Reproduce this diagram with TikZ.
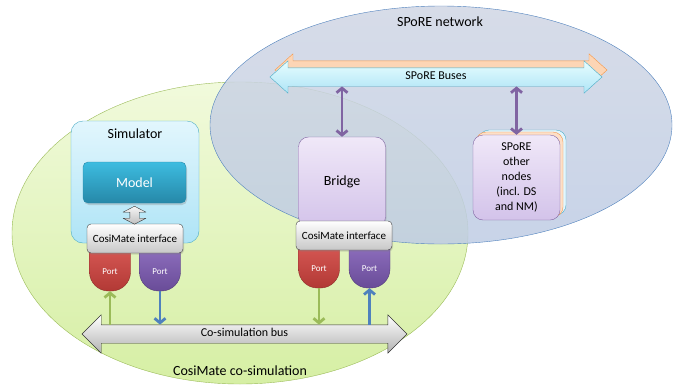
\documentclass[tikz,border=0pt]{standalone}
\usepackage{fontspec}
\setmainfont{Carlito}
\usetikzlibrary{positioning,shapes.geometric,shapes.arrows,arrows.meta,shadows}

\definecolor{cosigreen}{HTML}{9BBB59}
\definecolor{sporeblue}{HTML}{4F81BD}
\definecolor{sporepurple}{HTML}{8064A2}
\definecolor{simcyan}{HTML}{4BACC6}
\definecolor{busorange}{HTML}{F79646}
\definecolor{greentop}{HTML}{F1FADC}
\definecolor{greenbot}{HTML}{D6EFA4}
\definecolor{bluetop}{HTML}{D0D6E4}
\definecolor{bluebot}{HTML}{BECCE4}
\definecolor{lilactop}{HTML}{F0E8F8}
\definecolor{lilacbot}{HTML}{D3C3EA}
\definecolor{modeltop}{HTML}{3DBCE0}
\definecolor{modelbot}{HTML}{2688A8}
\definecolor{simtop}{HTML}{E2F6FD}
\definecolor{simbot}{HTML}{AEE4F6}
\definecolor{redtop}{HTML}{E2625E}
\definecolor{redbot}{HTML}{B23935}
\definecolor{purtop}{HTML}{9A7ACA}
\definecolor{purbot}{HTML}{694C98}

\begin{document}
\begin{tikzpicture}[x=1pt,y=-1pt,
    big/.style={font=\fontsize{14}{16}\selectfont},
    iface/.style={draw=black!75,rounded corners=4pt,minimum width=96pt,minimum height=29pt,
                  inner sep=1pt,top color=white,bottom color=black!22,
                  font=\fontsize{11}{13}\selectfont,
                  drop shadow={opacity=0.25,shadow xshift=1pt,shadow yshift=-1.5pt}},
    port/.style 2 args={rounded corners=19pt,minimum width=41pt,inner sep=0pt,
                 text height=41pt,text depth=17pt,text=white,
                 font=\fontsize{9}{10}\selectfont,
                 draw=#2!80!black,top color=#1,bottom color=#2},
    bus/.style={double arrow,draw,double arrow tip angle=84,inner xsep=2pt,
                text height=8pt,text depth=3pt,inner ysep=3.5pt,
                font=\fontsize{12}{14}\selectfont},
    link/.style={line width=2.8pt,-{Straight Barb[length=4.5pt,width=11pt]}},
    both/.style={line width=2.8pt,sporepurple,
                 {Straight Barb[length=4.5pt,width=11pt]}-{Straight Barb[length=4.5pt,width=11pt]}},
    stack/.style={rounded corners=10pt,minimum width=87pt,minimum height=85pt}
  ]
  \useasboundingbox (0,0) rectangle (676,386);

  % the two zones
  \draw[cosigreen,top color=greentop,bottom color=greenbot]
    (240,233) ellipse [x radius=228pt,y radius=151pt];
  \draw[sporeblue,fill opacity=0.85,top color=bluetop,bottom color=bluebot]
    (441,125) ellipse [x radius=231pt,y radius=119pt];
  \node[big] (netlabel) at (440,22) {SPoRE network};
  \node[big] (cosilabel) at (240,371) {CosiMate co-simulation};

  % buses
  \node[bus,draw=busorange,fill=busorange!40,minimum height=332pt,
        double arrow head extend=7pt] (sporeback) at (441,70) {\phantom{SPoRE Buses}};
  \node[bus,draw=simcyan,top color=simtop!70!cyan!25,bottom color=simbot,minimum height=332pt,
        double arrow head extend=7pt] (sporebus) at (436,77) {SPoRE Buses};
  \node[bus,draw=black!80,top color=white,bottom color=black!30,minimum height=325pt,
        double arrow head extend=10pt,double arrow tip angle=90] (cobus) at (244.5,334)
        {Co-simulation bus};

  % spore side
  \node[big,draw=sporepurple,rounded corners=10pt,minimum width=87pt,minimum height=90pt,
        top color=lilactop,bottom color=lilacbot,
        drop shadow={opacity=0.25,shadow xshift=1pt,shadow yshift=-1.5pt}] (bridge) at (342,182) {Bridge};
  \node[stack,draw=simcyan,fill=simtop] (otherback) at (522.5,172.5) {};
  \node[stack,draw=busorange,fill=busorange!30] (othermid) at (519.5,174.5) {};
  \node[stack,draw=sporepurple,top color=lilactop,bottom color=lilacbot,
        align=center,font=\fontsize{12}{15}\selectfont] (other) at (516.5,177.5)
        {SPoRE\\other\\nodes\\(incl. DS\\and NM)};

  % simulator side
  \node[draw=simcyan,rounded corners=12pt,minimum width=128pt,minimum height=122pt,
        top color=simtop,bottom color=simbot] (sim) at (135,182) {};
  \node[big,below=4pt of sim.north] (simtitle) {Simulator};
  \node[big,text=white,draw=modelbot,rounded corners=5pt,minimum width=103pt,
        minimum height=41pt,top color=modeltop,bottom color=modelbot,
        drop shadow={opacity=0.3,shadow xshift=1pt,shadow yshift=-2pt}] (model) at (134.5,182.5) {Model};

  % ports and interfaces
  \node[port={redtop}{redbot}] (simpin) at (110,262) {Port};
  \node[port={purtop}{purbot}] (simpout) at (160,262) {Port};
  \node[iface] (simif) at (135,238.5) {CosiMate interface};
  \node[port={redtop}{redbot}] (brpin) at (319,259) {Port};
  \node[port={purtop}{purbot}] (brpout) at (369.5,259) {Port};
  \node[iface] (brif) at (344,235.5) {CosiMate interface};

  % block arrow model <-> interface
  \draw[black!80,top color=white,bottom color=black!25,line join=round]
    (model.south) ++(0,3) -- ++(11.5,6) -- ++(-6.8,0) -- ++(0,6) -- ++(6.8,0)
    -- ++(-11.5,6) -- ++(-11.5,-6) -- ++(6.8,0) -- ++(0,-6) -- ++(-6.8,0) -- cycle;

  % links
  \draw[link,cosigreen] (simpin.south |- cobus.north) -- (simpin.south);
  \draw[link,sporeblue] (simpout.south) -- (simpout.south |- cobus.north);
  \draw[link,cosigreen] (brpin.south) -- (brpin.south |- cobus.north);
  \draw[link,sporeblue] (brpout.south |- cobus.north) -- (brpout.south);
  \draw[both] (bridge.north |- sporebus.south) -- (bridge.north);
  \draw[both] (other.north |- sporebus.south) -- (other.north);
\end{tikzpicture}
\end{document}
